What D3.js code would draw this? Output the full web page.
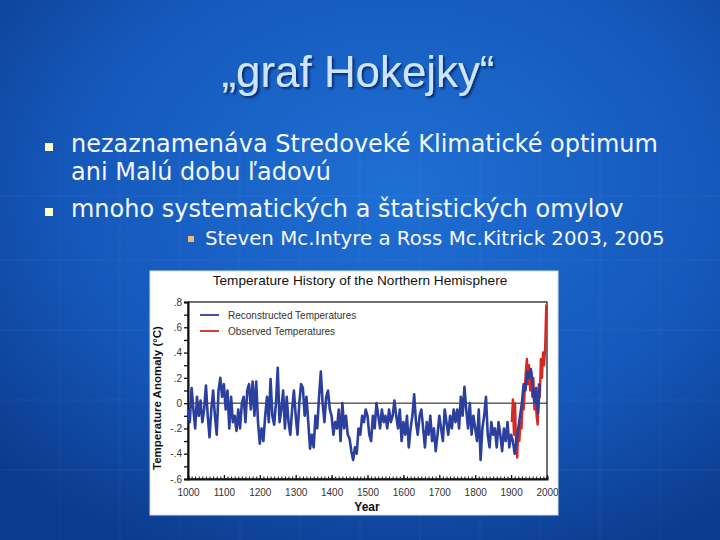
<!DOCTYPE html>
<html><head><meta charset="utf-8">
<script src="https://d3js.org/d3.v7.min.js"></script>
<style>body{margin:0;padding:0;background:#1356b8;overflow:hidden}</style>
</head><body>
<script>
// ---------- data ----------
const slideTitle = "„graf Hokejky“";
const bullets = ["nezaznamenáva Stredoveké Klimatické optimum", "ani Malú dobu ľadovú", "mnoho systematických a štatistických omylov"];
const subBullet = "Steven Mc.Intyre a Ross Mc.Kitrick 2003, 2005";
const chartTitle = "Temperature History of the Northern Hemisphere";
const seriesNames = ["Reconstructed Temperatures", "Observed Temperatures"];
const xTickLabels = [1000,1100,1200,1300,1400,1500,1600,1700,1800,1900,2000];
const yTickValues = [-0.6,-0.4,-0.2,0,0.2,0.4,0.6,0.8];
const yTickLabels = ["-.6","-.4","-.2","0",".2",".4",".6",".8"];
// reconstructed: every 5 years from 1000 to 1980
const blueStart = 1000, blueStep = 5;
const blueValues = [
-0.05,-0.15,0.12,-0.05,-0.2,0.05,-0.1,0.02,-0.15,-0.05,
0.14,-0.1,-0.27,-0.05,0.1,-0.1,-0.25,0.1,0.2,0.05,
0.15,-0.05,0.1,-0.2,0.05,-0.15,-0.1,-0.22,-0.05,-0.2,
0.0,0.05,-0.15,0.1,0.15,-0.05,0.17,-0.1,0.17,-0.15,
-0.32,-0.2,-0.3,-0.1,0.05,-0.15,0.19,-0.1,-0.17,0.0,
0.28,-0.15,-0.05,0.1,-0.2,0.05,-0.15,-0.25,-0.05,0.1,
-0.1,-0.25,0.0,0.15,0.12,-0.1,0.05,-0.15,-0.36,-0.25,
-0.35,-0.1,-0.2,0.05,0.25,0.0,-0.15,0.05,0.1,-0.05,
-0.1,-0.25,-0.15,-0.2,-0.05,-0.3,0.0,-0.2,-0.1,-0.25,
-0.28,-0.38,-0.45,-0.35,-0.4,-0.2,-0.25,-0.1,-0.15,-0.05,
-0.1,-0.25,-0.3,-0.1,-0.2,0.0,-0.1,-0.2,-0.05,-0.15,
-0.1,-0.2,-0.05,-0.15,-0.1,0.02,-0.1,-0.2,-0.05,-0.3,
-0.15,-0.25,-0.1,-0.35,-0.2,-0.1,0.07,-0.15,-0.25,-0.1,
-0.05,-0.2,-0.35,-0.15,-0.25,-0.1,-0.3,-0.2,-0.38,-0.25,
-0.1,-0.2,-0.3,-0.05,-0.15,-0.25,-0.1,-0.2,-0.05,-0.15,
-0.05,-0.2,0.05,-0.1,0.13,-0.05,-0.2,0.0,-0.25,-0.1,
-0.2,-0.3,-0.05,-0.45,-0.2,-0.1,0.05,-0.25,-0.35,-0.15,
-0.25,-0.2,-0.35,-0.15,-0.25,-0.38,-0.2,-0.3,-0.15,-0.35,
-0.25,-0.3,-0.4,-0.3,-0.2,-0.1,0.0,0.15,0.1,0.25,
0.2,0.27,0.15,0.0,0.12,-0.08,0.15];
const redYears = [1902,1905,1908,1911,1914,1917,1920,1923,1926,1929,1932,1935,1938,1941,1944,1947,1950,1953,1956,1959,1962,1965,1968,1971,1974,1977,1980,1983,1986,1989,1992,1995,1998];
const redValues = [-0.15,0.03,-0.25,0.0,-0.35,-0.43,-0.2,-0.3,-0.15,-0.2,0.0,-0.05,0.1,0.25,0.35,0.15,0.3,0.1,0.25,0.05,0.2,-0.05,0.1,-0.1,-0.17,0.15,0.05,0.35,0.2,0.4,0.3,0.45,0.78];

const blueData = blueValues.map((v,i)=>({x: blueStart + i*blueStep, y: v}));
const redData = redYears.map((yr,i)=>({x: yr, y: redValues[i]}));

// ---------- slide ----------
const W = 720, H = 540;
const svg = d3.select("body").append("svg").attr("width", W).attr("height", H);
const defs = svg.append("defs");
const bg = defs.append("radialGradient").attr("id","bg").attr("cx","55%").attr("cy","35%").attr("r","75%");
bg.append("stop").attr("offset","0%").attr("stop-color","#1f6fd4");
bg.append("stop").attr("offset","60%").attr("stop-color","#1558bb");
bg.append("stop").attr("offset","100%").attr("stop-color","#0b3b8c");
svg.append("rect").attr("width",W).attr("height",H).attr("fill","url(#bg)");
const gridG = svg.append("g").attr("stroke","#ffffff").attr("stroke-opacity",0.05).attr("stroke-width",1);
[60,120,180,240,300,360,420,480,540,600,660].forEach(x=>gridG.append("line").attr("x1",x).attr("x2",x).attr("y1",150).attr("y2",H));
[196,260,330,400,470].forEach(y=>gridG.append("line").attr("x1",0).attr("x2",W).attr("y1",y).attr("y2",y));

const sh = defs.append("filter").attr("id","shadow").attr("x","-10%").attr("y","-10%").attr("width","120%").attr("height","130%");
sh.append("feDropShadow").attr("dx",2).attr("dy",2).attr("stdDeviation",1).attr("flood-color","#06245a").attr("flood-opacity",0.8);

function fit(sel, target){
  const w = sel.node().getComputedTextLength();
  const fs = parseFloat(sel.attr("font-size"));
  sel.attr("font-size", (fs*target/w).toFixed(2));
}
const title = svg.append("text").attr("x",358).attr("y",87).attr("text-anchor","middle")
  .attr("font-family","Liberation Sans, Arial, sans-serif").attr("font-size",44)
  .attr("fill","#cfe5ff").attr("filter","url(#shadow)").text(slideTitle);
fit(title, 273);

const bFont = "DejaVu Sans, Verdana, sans-serif";
const bY = [152,180,217];
const bl = bullets.map((t,i)=>svg.append("text").attr("x",71).attr("y",bY[i])
  .attr("font-family",bFont).attr("font-size",22).attr("fill","#f4f7ff").text(t));
const w0 = bl[0].node().getComputedTextLength();
const fsB = 22*587/w0;
bl.forEach(s=>s.attr("font-size",fsB.toFixed(2)));
svg.append("rect").attr("x",45).attr("y",143).attr("width",8).attr("height",8).attr("fill","#ffffcc");
svg.append("rect").attr("x",45).attr("y",208).attr("width",8).attr("height",8).attr("fill","#ffffcc");
svg.append("rect").attr("x",188).attr("y",236).attr("width",6).attr("height",6).attr("fill","#f0b870");
const sb = svg.append("text").attr("x",205).attr("y",245).attr("font-family",bFont).attr("font-size",17)
  .attr("fill","#f4f7ff").text(subBullet);
fit(sb, 460);

// ---------- chart picture ----------
const ch = svg.append("g");
ch.append("rect").attr("x",150).attr("y",271).attr("width",408).attr("height",244).attr("fill","#ffffff").attr("stroke","#d8dde6");

const ct = ch.append("text").attr("x",360).attr("y",285).attr("text-anchor","middle")
  .attr("font-family","Liberation Sans, Arial, sans-serif").attr("font-size",13).attr("fill","#111").text(chartTitle);
fit(ct, 295);

const L = 188, R = 547, T = 302, B = 479;
const x = d3.scaleLinear().domain([1000,2000]).range([L,R]);
const y = d3.scaleLinear().domain([-0.6,0.8]).range([B,T]);

ch.append("rect").attr("x",L).attr("y",T).attr("width",R-L).attr("height",B-T).attr("fill","none").attr("stroke","#111").attr("stroke-width",1.2);
ch.append("line").attr("x1",L).attr("x2",R).attr("y1",y(0)).attr("y2",y(0)).attr("stroke","#111").attr("stroke-width",1);

const yMinor = d3.range(-6,9).map(d=>d/10);
const ya = ch.append("g").attr("transform",`translate(${L},0)`)
  .call(d3.axisLeft(y).tickValues(yMinor).tickSize(4).tickFormat(d=>{
    const k = yTickValues.findIndex(v=>Math.abs(v-d)<1e-9);
    return k>=0 ? yTickLabels[k] : "";
  }));
ya.select(".domain").attr("stroke","#111").attr("stroke-width",2);
ya.selectAll(".tick line").attr("stroke","#111").attr("stroke-width",1.3);
ya.selectAll(".tick text").attr("font-family","Liberation Sans, Arial, sans-serif").attr("font-size",10).attr("fill","#333").attr("x",-6);

const xMinor = d3.range(1000,2001,10);
const xa1 = ch.append("g").attr("transform",`translate(0,${B})`)
  .call(d3.axisBottom(x).tickValues(xMinor).tickSize(-2.5).tickFormat(""));
xa1.select(".domain").attr("stroke","#111").attr("stroke-width",2);
xa1.selectAll(".tick line").attr("stroke","#111").attr("stroke-width",1);
const xa = ch.append("g").attr("transform",`translate(0,${B})`)
  .call(d3.axisBottom(x).tickValues(xTickLabels).tickSize(-4).tickPadding(10).tickFormat(d3.format("d")));
xa.select(".domain").remove();
xa.selectAll(".tick line").attr("stroke","#111").attr("stroke-width",1.2);
xa.selectAll(".tick text").attr("font-family","Liberation Sans, Arial, sans-serif").attr("font-size",10).attr("fill","#333");

ch.append("text").attr("transform",`translate(161,398) rotate(-90)`).attr("text-anchor","middle")
  .attr("font-family","Liberation Sans, Arial, sans-serif").attr("font-weight","bold").attr("font-size",11.5).attr("fill","#111")
  .text("Temperature Anomaly (°C)");
ch.append("text").attr("x",367).attr("y",511).attr("text-anchor","middle")
  .attr("font-family","Liberation Sans, Arial, sans-serif").attr("font-weight","bold").attr("font-size",12).attr("fill","#111")
  .text("Year");

const line = d3.line().x(d=>x(d.x)).y(d=>y(d.y));
ch.append("path").datum(redData).attr("d",line).attr("fill","none").attr("stroke","#d42a24").attr("stroke-width",2.4).attr("stroke-linejoin","round");
ch.append("path").datum(blueData).attr("d",line).attr("fill","none").attr("stroke","#2b3f9e").attr("stroke-width",2.6).attr("stroke-linejoin","round");

const colors = ["#2b3f9e","#d42a24"];
seriesNames.forEach((n,i)=>{
  const yy = 315 + i*16;
  ch.append("line").attr("x1",200).attr("x2",219).attr("y1",yy).attr("y2",yy).attr("stroke",colors[i]).attr("stroke-width",1.8);
  ch.append("text").attr("x",228).attr("y",yy+3.5).attr("font-family","Liberation Sans, Arial, sans-serif").attr("font-size",10)
    .attr("fill","#333").text(n);
});
</script>
</body></html>
